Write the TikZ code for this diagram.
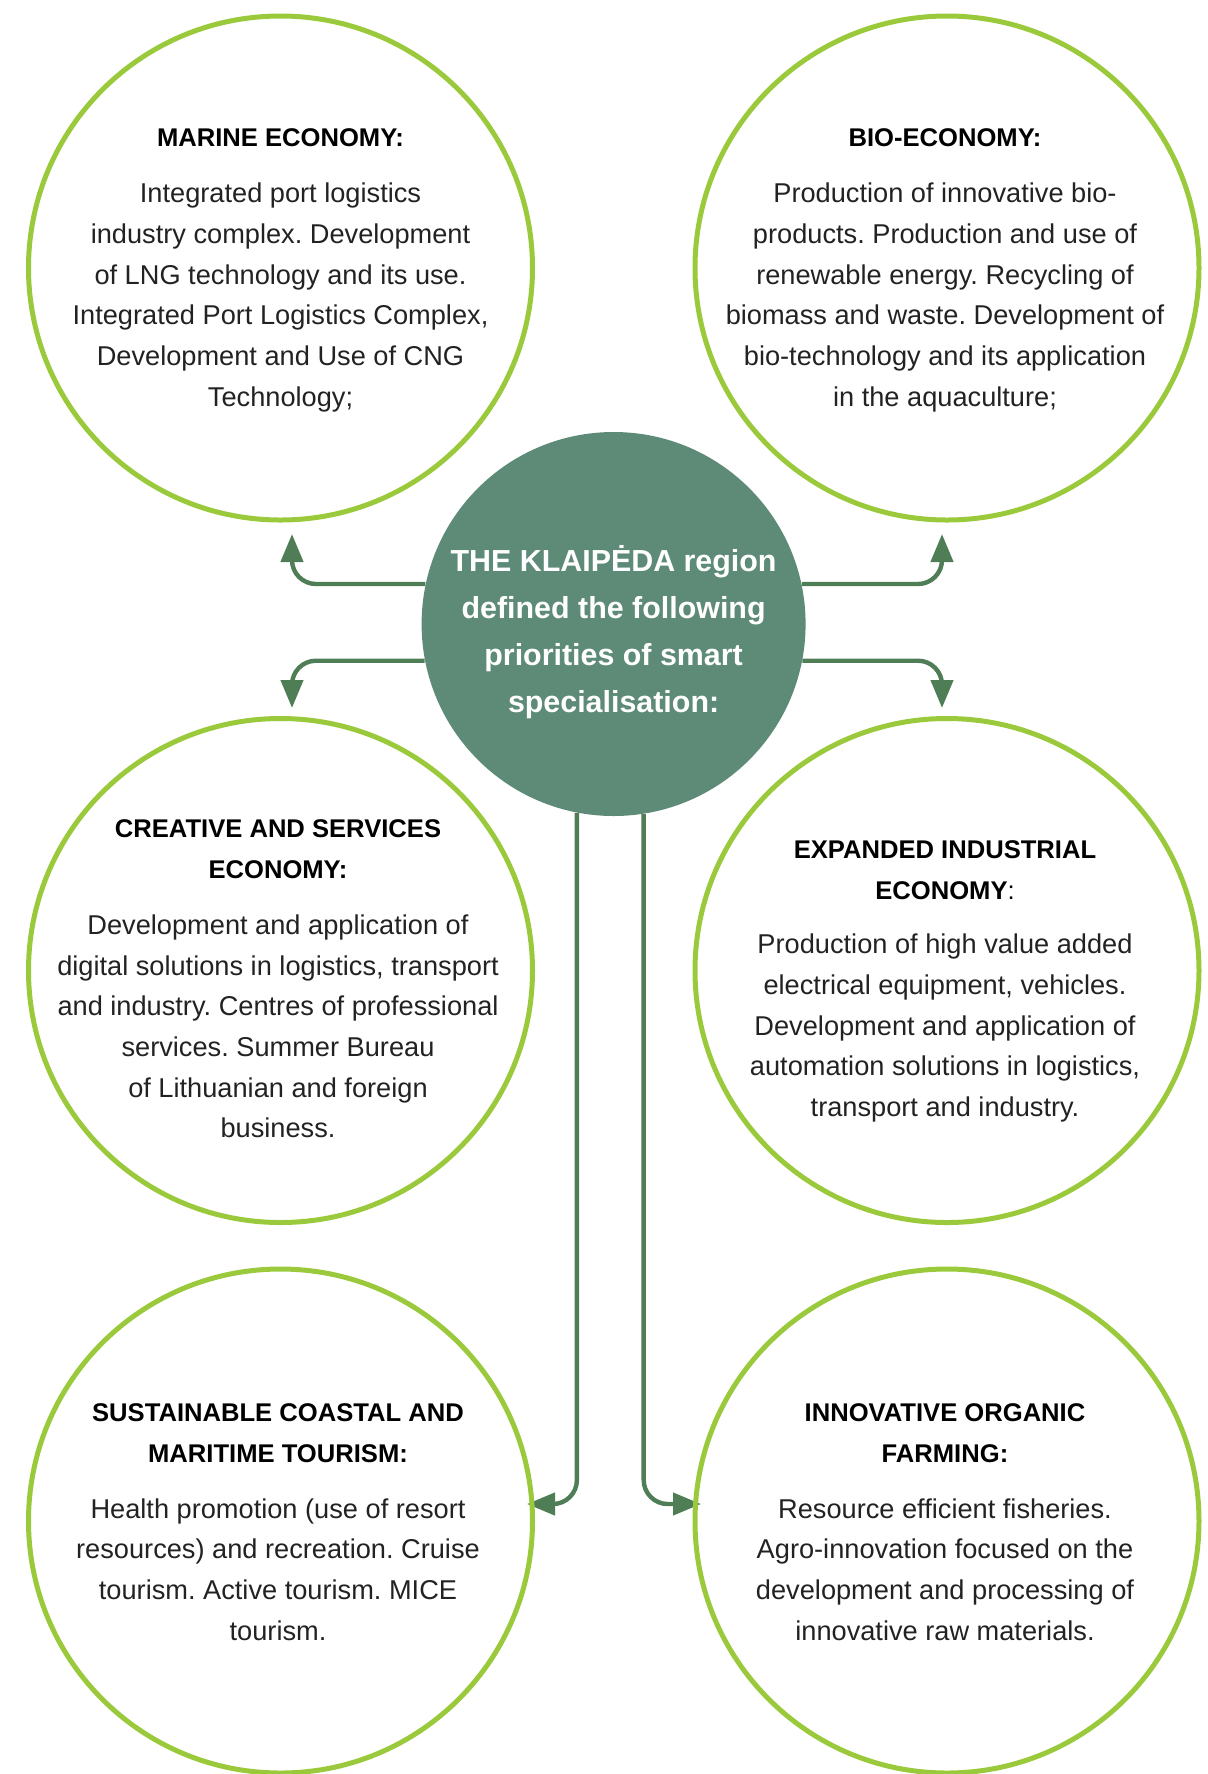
\documentclass[tikz,border=0pt]{standalone}
\usepackage{fontspec}
\setmainfont{Liberation Sans}
\usetikzlibrary{arrows.meta}
\definecolor{ringgreen}{HTML}{9BC93C}
\definecolor{arrgreen}{HTML}{4F7D56}
\definecolor{hubgreen}{HTML}{5E8B77}
\definecolor{txt}{HTML}{222222}
\pgfdeclarelayer{bg}
\pgfsetlayers{bg,main}
\frenchspacing
\begin{document}
\begin{tikzpicture}[x=0.5pt,y=-0.5pt,
 ring/.style={circle, draw=ringgreen, line width=2.5pt, minimum size=252pt, inner sep=0pt},
 hub/.style={circle, fill=hubgreen, minimum size=192pt, inner sep=0pt},
 head/.style={align=center, font=\fontsize{12.8}{20.35}\selectfont\bfseries\frenchspacing, text=black, inner sep=0pt},
 body/.style={align=center, font=\fontsize{13.6}{20.35}\selectfont\frenchspacing, text=txt, inner sep=0pt},
 title/.style={align=center, font=\fontsize{15.2}{23.5}\selectfont\bfseries, text=white, inner sep=0pt},
 conn/.style={draw=arrgreen, line width=2.2pt, rounded corners=12pt, -{Triangle[length=14pt,width=11pt]}}
]
\useasboundingbox (0,0) rectangle (1208,1774);

\node[ring] (tl) at (280.5,268) {};
\node[ring] (tr) at (947,268) {};
\node[ring] (ml) at (280.5,970.5) {};
\node[ring] (mr) at (947,970.5) {};
\node[ring] (bl) at (280.5,1521) {};
\node[ring] (br) at (947,1521) {};

\node[hub] (hub) at (613.6,624) {};

\coordinate (tlTip) at (292,534);
\coordinate (trTip) at (942,534);
\coordinate (mlTip) at (292,708);
\coordinate (mrTip) at (942,708);
\coordinate (blTip) at (527,1504);
\coordinate (brTip) at (701,1504);

\begin{pgfonlayer}{bg}
\draw[conn] (hub.168) -| (tlTip);
\draw[conn] (hub.12) -| (trTip);
\draw[conn] (hub.191) -| (mlTip);
\draw[conn] (hub.-11) -| (mrTip);
\draw[conn] (hub.259.6) |- (blTip);
\draw[conn] (hub.279.6) |- (brTip);
\end{pgfonlayer}

\node[title] (hubT) at (613.6,632) {THE KLAIPĖDA region\\defined the following\\priorities of smart\\specialisation:};

\node[head] (tlH) at (280.5,138) {MARINE ECONOMY:};
\node[body] (tlB) at (280.5,297.5) {Integrated port logistics\\industry complex. Development\\of LNG technology and its use.\\Integrated Port Logistics Complex,\\Development and Use of CNG\\Technology;};

\node[head] (trH) at (945,138) {BIO-ECONOMY:};
\node[body] (trB) at (945,297.5) {Production of innovative bio-\\products. Production and use of\\renewable energy. Recycling of\\biomass and waste. Development of\\bio-technology and its application\\in the aquaculture;};

\node[head] (mlH) at (278,849.5) {CREATIVE AND SERVICES\\ECONOMY:};
\node[body] (mlB) at (278,1026.5) {Development and application of\\digital solutions in logistics, transport\\and industry. Centres of professional\\services. Summer Bureau\\of Lithuanian and foreign\\business.};

\node[head] (mrH) at (945,870) {EXPANDED INDUSTRIAL\\ECONOMY\mdseries:};
\node[body] (mrB) at (945,1028) {Production of high value added\\electrical equipment, vehicles.\\Development and application of\\automation solutions in logistics,\\transport and industry.};

\node[head] (blH) at (278,1433) {SUSTAINABLE COASTAL AND\\MARITIME TOURISM:};
\node[body] (blB) at (278,1569.5) {Health promotion (use of resort\\resources) and recreation. Cruise\\tourism. Active tourism. MICE\\tourism.};

\node[head] (brH) at (945,1433) {INNOVATIVE ORGANIC\\FARMING:};
\node[body] (brB) at (945,1569.5) {Resource efficient fisheries.\\Agro-innovation focused on the\\development and processing of\\innovative raw materials.};
\end{tikzpicture}
\end{document}
